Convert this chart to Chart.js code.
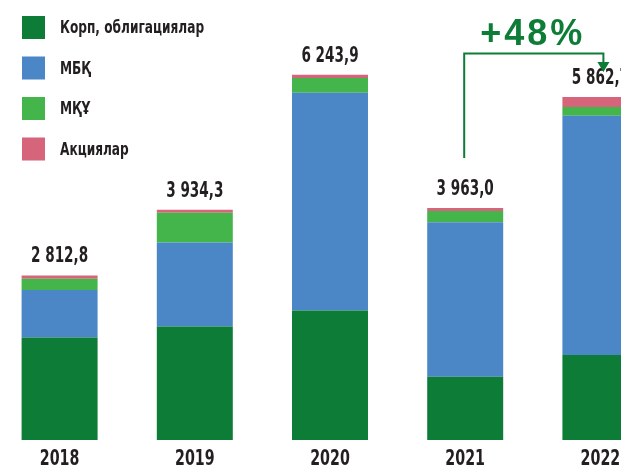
<!DOCTYPE html>
<html>
<head>
<meta charset="utf-8">
<script src="https://cdn.jsdelivr.net/npm/chart.js@4"></script>
<style>
  html, body { margin: 0; padding: 0; background: #fff; overflow: hidden; width: 621px; height: 466px; }
  #wrap { position: absolute; left: -8px; top: 0; width: 676px; height: 466px; }
</style>
</head>
<body>
<div id="wrap"><canvas id="grafico"></canvas></div>
<script>
// Данные
const years = ["2018", "2019", "2020", "2021", "2022"];
const seriesNames = ["Корп, облигациялар", "МБҚ", "МҚҰ", "Акциялар"];
const korp = [1752.8, 1938.3, 2211.9, 1080.0, 1454.7];
const mbk = [811, 1437, 3722, 2643, 4088];
const mku = [194, 507, 253, 190, 149];
const akcii = [55, 52, 57, 50, 171];
const growthText = "+48%";

const colors = ["#0c7c37", "#4b86c7", "#43b54a", "#d6647a"];
const darkText = "#231f20";
const narrow = "'DejaVu Sans Condensed', 'DejaVu Sans', sans-serif";

function fmt(v) {
  let s = v.toFixed(1).replace(".", ",");
  let [a, b] = s.split(",");
  a = a.replace(/\B(?=(\d{3})+(?!\d))/g, " ");
  return a + "," + b;
}

// узкий текст: сжимаем по горизонтали
function narrowText(ctx, text, x, y, align, sx) {
  ctx.save();
  ctx.translate(x, y);
  ctx.scale(sx || 0.72, 1);
  ctx.textAlign = align;
  ctx.fillText(text, 0, 0);
  ctx.restore();
}

// Подписи итогов и годов
const totalsPlugin = {
  id: "totals",
  afterDatasetsDraw(chart) {
    const ctx = chart.ctx;
    const last = chart.getDatasetMeta(chart.data.datasets.length - 1);
    const xs = chart.scales.x;
    ctx.save();
    ctx.font = "bold 21px " + narrow;
    ctx.fillStyle = darkText;
    ctx.textBaseline = "alphabetic";
    years.forEach((y, i) => {
      const total = korp[i] + mbk[i] + mku[i] + akcii[i];
      const bar = last.data[i];
      narrowText(ctx, fmt(total), bar.x, bar.y - 13, "center");
    });
    ctx.font = "bold 22px " + narrow;
    xs.getLabels().forEach((lab, i) => {
      narrowText(ctx, lab, xs.getPixelForValue(i), chart.chartArea.bottom + 25, "center");
    });
    ctx.restore();
  }
};

// Легенда слева сверху
const legendPlugin = {
  id: "legendBox",
  afterDraw(chart) {
    const ctx = chart.ctx;
    const rows = [27.5, 68, 108.5, 149];
    ctx.save();
    ctx.font = "bold 18px " + narrow;
    ctx.textBaseline = "middle";
    chart.data.datasets.forEach((ds, i) => {
      ctx.fillStyle = ds.backgroundColor;
      ctx.fillRect(30, rows[i] - 11.5, 23, 23);
      ctx.fillStyle = darkText;
      narrowText(ctx, ds.label, 68, rows[i] + 1, "left", 0.75);
    });
    ctx.restore();
  }
};

// Стрелка роста 2021 -> 2022
const arrowPlugin = {
  id: "growth",
  afterDraw(chart) {
    const ctx = chart.ctx;
    const x = chart.scales.x;
    const x1 = x.getPixelForValue(3) - 1;
    const x2 = x.getPixelForValue(4) + 3;
    const green = "#0c7c37";
    ctx.save();
    ctx.strokeStyle = green;
    ctx.lineWidth = 2;
    ctx.beginPath();
    ctx.moveTo(x1, 158);
    ctx.lineTo(x1, 53.5);
    ctx.lineTo(x2, 53.5);
    ctx.lineTo(x2, 63);
    ctx.stroke();
    ctx.fillStyle = green;
    ctx.beginPath();
    ctx.moveTo(x2 - 6, 62);
    ctx.lineTo(x2 + 6, 62);
    ctx.lineTo(x2, 72);
    ctx.closePath();
    ctx.fill();
    ctx.font = "bold 36px 'Liberation Sans', Arial, sans-serif";
    ctx.letterSpacing = "3px";
    ctx.textAlign = "center";
    ctx.textBaseline = "alphabetic";
    ctx.fillText(growthText, (x1 + x2) / 2 - 1, 45);
    ctx.restore();
  }
};

const series = [korp, mbk, mku, akcii];

let datos = {
  labels: years,
  datasets: series.map((d, i) => ({
    label: seriesNames[i],
    data: d,
    backgroundColor: colors[i],
    borderWidth: 0,
    barPercentage: 0.562,
    categoryPercentage: 1,
  })),
};

let opciones = {
  responsive: true,
  maintainAspectRatio: false,
  animation: false,
  layout: { padding: { top: 0, left: 0, right: 0, bottom: 26 } },
  plugins: {
    legend: { display: false },
    tooltip: { enabled: false },
  },
  scales: {
    x: {
      stacked: true,
      grid: { display: false, drawTicks: false },
      border: { display: false },
      ticks: { display: false },
    },
    y: {
      stacked: true,
      display: false,
      min: 0,
      max: 7520,
    },
  },
};

new Chart(document.getElementById("grafico").getContext("2d"), {
  type: "bar",
  data: datos,
  options: opciones,
  plugins: [totalsPlugin, legendPlugin, arrowPlugin],
});
</script>
</body>
</html>
